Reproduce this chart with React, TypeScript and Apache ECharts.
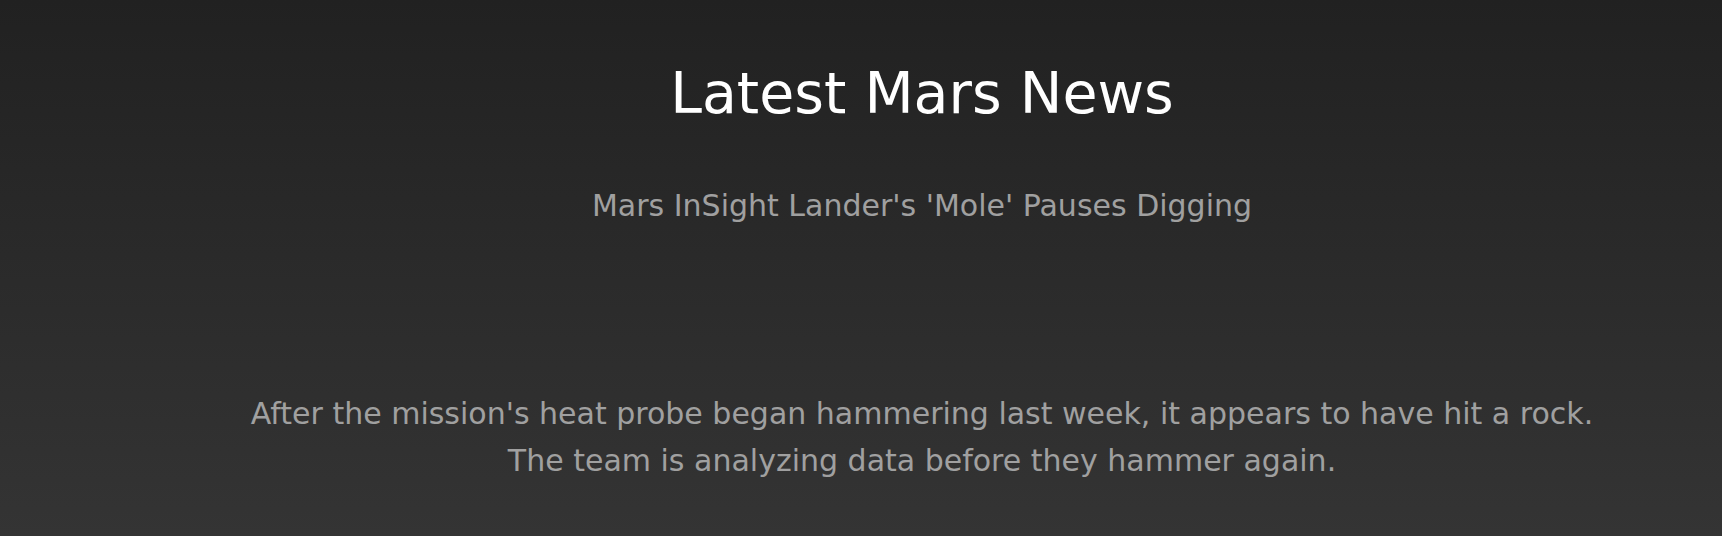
import { useEffect, useRef } from 'react';
import * as echarts from 'echarts';

const heading = ['Latest Mars News'];
const subheading = ["Mars InSight Lander's 'Mole' Pauses Digging"];
const bodyLines = [
  "After the mission's heat probe began hammering last week, it appears to have hit a rock.",
  'The team is analyzing data before they hammer again.',
];

export default function App() {
  const ref = useRef<HTMLDivElement>(null);

  useEffect(() => {
    document.body.style.margin = '0';
    if (!ref.current) return;
    const chart = echarts.init(ref.current, null, { renderer: 'svg' });
    const cx = 922;
    const font = '"DejaVu Sans", sans-serif';

    const texts: any[] = [
      ...heading.map((t, i) => ({
        type: 'text',
        x: cx,
        y: 93 + i * 60,
        style: { text: t, fill: '#ffffff', font: `400 57px ${font}`, textAlign: 'center', textVerticalAlign: 'middle' },
      })),
      ...subheading.map((t, i) => ({
        type: 'text',
        x: cx,
        y: 205 + i * 40,
        style: { text: t, fill: '#a0a0a0', font: `400 30px ${font}`, textAlign: 'center', textVerticalAlign: 'middle' },
      })),
      ...bodyLines.map((t, i) => ({
        type: 'text',
        x: cx,
        y: 413 + i * 47,
        style: { text: t, fill: '#a0a0a0', font: `400 30px ${font}`, textAlign: 'center', textVerticalAlign: 'middle' },
      })),
    ];

    chart.setOption({
      animation: false,
      backgroundColor: new echarts.graphic.LinearGradient(0, 0, 0, 1, [
        { offset: 0, color: '#212121' },
        { offset: 1, color: '#343434' },
      ]),
      graphic: texts,
    });
    return () => chart.dispose();
  }, []);

  return <div ref={ref} style={{ width: 1722, height: 536 }} />;
}
